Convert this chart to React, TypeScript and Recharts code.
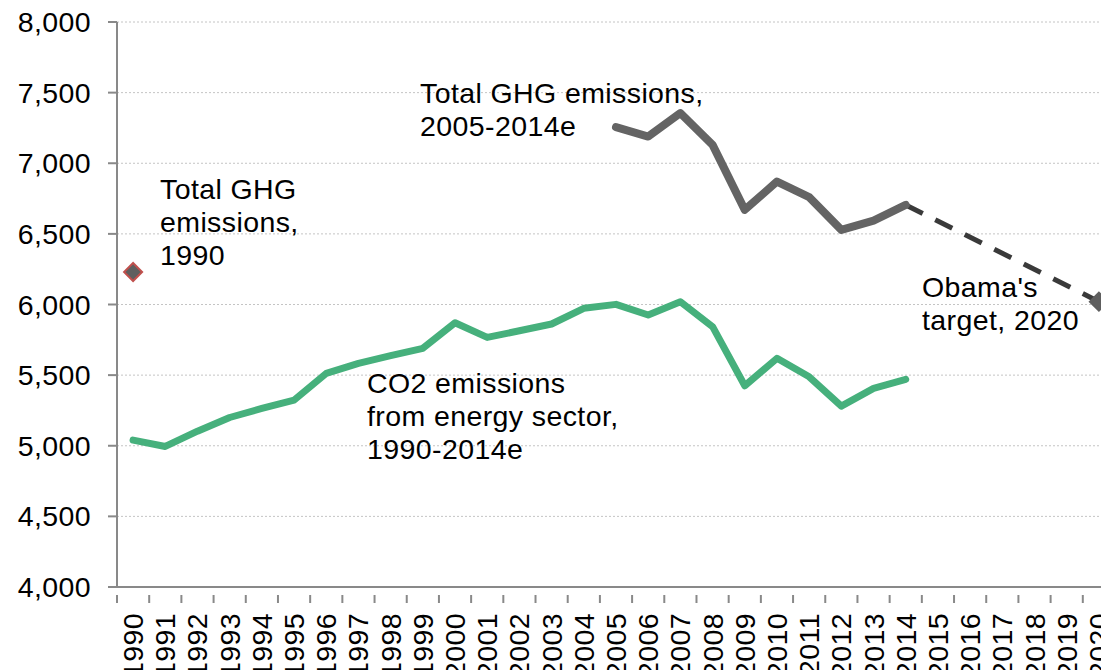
import React from 'react';
import { LineChart, Line, XAxis, YAxis, CartesianGrid } from 'recharts';

const years = [
  '1990', '1991', '1992', '1993', '1994', '1995', '1996', '1997', '1998', '1999',
  '2000', '2001', '2002', '2003', '2004', '2005', '2006', '2007', '2008', '2009',
  '2010', '2011', '2012', '2013', '2014', '2015', '2016', '2017', '2018', '2019', '2020',
];

// CO2 emissions from energy sector, 1990-2014e
const co2Years = years.slice(0, 25);
const co2Values = [
  5040, 4995, 5103, 5200, 5264, 5323, 5512, 5583, 5638, 5690,
  5871, 5767, 5814, 5862, 5973, 6001, 5926, 6020, 5843, 5425,
  5619, 5488, 5281, 5406, 5470,
];

// Total GHG emissions, 2005-2014e
const ghgYears = ['2005', '2006', '2007', '2008', '2009', '2010', '2011', '2012', '2013', '2014'];
const ghgValues = [7256, 7189, 7355, 7130, 6670, 6870, 6760, 6528, 6594, 6705];

// Total GHG emissions, 1990
const ghg1990Years = ['1990'];
const ghg1990Values = [6230];

// Obama's target path 2014 -> 2020
const targetYears = ['2014', '2020'];
const targetValues = [6705, 6020];

const yTicks = [4000, 4500, 5000, 5500, 6000, 6500, 7000, 7500, 8000];

const data = years.map((y) => {
  const ci = co2Years.indexOf(y);
  const gi = ghgYears.indexOf(y);
  const hi = ghg1990Years.indexOf(y);
  const ti = targetYears.indexOf(y);
  return {
    year: y,
    co2: ci >= 0 ? co2Values[ci] : null,
    ghg: gi >= 0 ? ghgValues[gi] : null,
    ghg1990: hi >= 0 ? ghg1990Values[hi] : null,
    target: ti >= 0 ? targetValues[ti] : null,
  };
});

const W = 1120;
const H = 670;
const Y_AXIS_W = 117;
const MARGIN = { top: 22, right: 5, bottom: 0, left: 0 };
const X_AXIS_H = 83;
const PLOT_W = W - MARGIN.left - MARGIN.right - Y_AXIS_W;
const BAND = PLOT_W / years.length;

const FONT = '"Liberation Sans", Arial, sans-serif';
const FS = 28.5;
const LS = 0.4;
const AXIS_COLOR = '#898989';

const fmt = (v: number) => v.toLocaleString('en-US');

const XTick = (props: any) => {
  const { x, y, payload } = props;
  const bx = x - BAND / 2;
  return (
    <g>
      <line x1={bx} y1={y} x2={bx} y2={y + 8} stroke={AXIS_COLOR} strokeWidth={2} />
      <text
        x={x + 10}
        y={y + 18}
        transform={`rotate(-90 ${x + 10} ${y + 18})`}
        textAnchor="end"
        fontFamily={FONT}
        fontSize={FS}
        letterSpacing={LS}
        fill="#000"
      >
        {payload.value}
      </text>
    </g>
  );
};

const Diamond = (cx: number, cy: number, fill: string, stroke: string, key: any) => {
  const r = 9;
  return (
    <path
      key={key}
      d={`M${cx},${cy - r} L${cx + r},${cy} L${cx},${cy + r} L${cx - r},${cy} Z`}
      fill={fill}
      stroke={stroke}
      strokeWidth={2}
    />
  );
};

const ghg1990Dot = (p: any) => {
  if (p.value == null || p.cx == null) return <g key={`h${p.index}`} />;
  return Diamond(p.cx, p.cy, '#5f5f5f', '#c0504d', `h${p.index}`);
};

const targetDot = (p: any) => {
  if (p.value == null || p.cx == null || p.payload.year !== '2020') return <g key={`t${p.index}`} />;
  return Diamond(p.cx, p.cy, '#5f5f5f', '#5f5f5f', `t${p.index}`);
};

const textStyle = { fontFamily: FONT, fontSize: FS, fill: '#000', letterSpacing: LS } as const;

export default function App() {
  return (
    <div style={{ position: 'absolute', left: 0, top: 0, width: 1101, height: 670, overflow: 'hidden', background: '#fff' }}>
      <div style={{ position: 'relative', width: W, height: H }}>
        <LineChart width={W} height={H} data={data} margin={MARGIN}>
          <CartesianGrid horizontal vertical={false} stroke="#c4c4c4" strokeDasharray="2 2" />
          <XAxis
            dataKey="year"
            scale="band"
            interval={0}
            height={X_AXIS_H}
            axisLine={{ stroke: AXIS_COLOR, strokeWidth: 2 }}
            tickLine={false}
            tick={<XTick />}
          />
          <YAxis
            domain={[4000, 8000]}
            ticks={yTicks}
            width={Y_AXIS_W}
            tickFormatter={fmt}
            axisLine={{ stroke: AXIS_COLOR, strokeWidth: 2 }}
            tickLine={{ stroke: AXIS_COLOR, strokeWidth: 2 }}
            tickSize={9}
            tickMargin={17}
            tick={{ fontFamily: FONT, fontSize: FS, fill: '#000', letterSpacing: LS }}
            interval={0}
          />
          <Line
            dataKey="co2"
            stroke="#46b07c"
            strokeWidth={7}
            strokeLinejoin="round"
            strokeLinecap="round"
            dot={false}
            activeDot={false}
            isAnimationActive={false}
          />
          <Line
            dataKey="target"
            stroke="#3a3a3a"
            strokeWidth={5}
            strokeDasharray="19 14"
            connectNulls
            dot={targetDot}
            activeDot={false}
            isAnimationActive={false}
          />
          <Line
            dataKey="ghg"
            stroke="#646464"
            strokeWidth={8}
            strokeLinejoin="round"
            strokeLinecap="round"
            dot={false}
            activeDot={false}
            isAnimationActive={false}
          />
          <Line
            dataKey="ghg1990"
            stroke="none"
            dot={ghg1990Dot}
            activeDot={false}
            isAnimationActive={false}
          />
        </LineChart>
        <svg width={W} height={H} style={{ position: 'absolute', left: 0, top: 0, pointerEvents: 'none' }}>
          <text {...textStyle}>
            <tspan x={420} y={103}>Total GHG emissions,</tspan>
            <tspan x={420} y={136}>2005-2014e</tspan>
          </text>
          <text {...textStyle}>
            <tspan x={160} y={199}>Total GHG</tspan>
            <tspan x={160} y={232}>emissions,</tspan>
            <tspan x={160} y={265}>1990</tspan>
          </text>
          <text {...textStyle}>
            <tspan x={367} y={393}>CO2 emissions</tspan>
            <tspan x={367} y={426}>from energy sector,</tspan>
            <tspan x={367} y={459}>1990-2014e</tspan>
          </text>
          <text {...textStyle}>
            <tspan x={922} y={297}>Obama's</tspan>
            <tspan x={922} y={330}>target, 2020</tspan>
          </text>
        </svg>
      </div>
    </div>
  );
}
